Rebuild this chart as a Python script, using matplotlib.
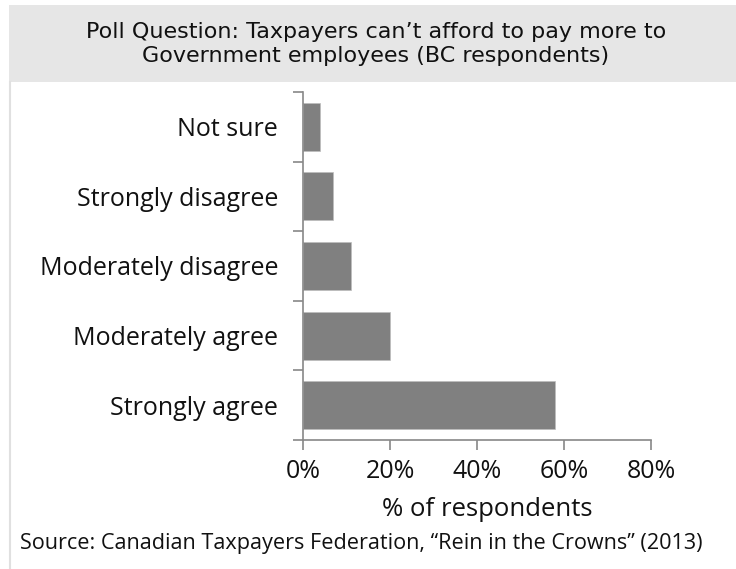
import matplotlib.pyplot as plt
from matplotlib.patches import Rectangle
from matplotlib.lines import Line2D
import numpy as np

categories = ['Strongly agree', 'Moderately agree', 'Moderately disagree',
              'Strongly disagree', 'Not sure']
values = [0.58, 0.20, 0.11, 0.07, 0.04]
xticks = [0, 0.2, 0.4, 0.6, 0.8]
xticklabels = ['0%', '20%', '40%', '60%', '80%']

plt.rcParams['font.family'] = ['Open Sans', 'DejaVu Sans']

W, H = 736, 569
fig = plt.figure(figsize=(W / 100, H / 100), dpi=100)

# header band and left rule
fig.patches.append(Rectangle((9 / W, 1 - 82 / H), 1 - 9 / W, 77 / H,
                             transform=fig.transFigure, facecolor='#e6e6e6',
                             edgecolor='none', zorder=0))
fig.lines.append(Line2D([9.5 / W, 9.5 / W], [0, 1 - 82 / H],
                        transform=fig.transFigure, color='#e0e0e0', lw=1.5))

fig.text(376 / W, 1 - 44 / H,
         'Poll Question: Taxpayers can\u2019t afford to pay more to\nGovernment employees (BC respondents)',
         ha='center', va='center', fontsize=16, linespacing=1.2,
         family='DejaVu Sans', color='#111111')

ax = fig.add_axes([303 / W, 1 - 440 / H, 348 / W, 348 / H])
y = np.arange(len(categories))
ax.barh(y, values, height=0.69, color='#808080', edgecolor='#bdbdbd', lw=0.5)
ax.set_xlim(0, 0.8)
ax.set_ylim(-0.5, len(categories) - 0.5)

for s in ['top', 'right']:
    ax.spines[s].set_visible(False)
for s in ['left', 'bottom']:
    ax.spines[s].set_color('#888888')
    ax.spines[s].set_linewidth(1.2)
ax.spines['bottom'].set_bounds(0, 0.8)

ax.set_xticks(xticks)
ax.set_xticklabels(xticklabels, fontsize=18, color='#111111')
ax.tick_params(axis='x', length=7, width=1.2, color='#888888', pad=7)

ax.set_yticks(np.arange(len(categories) + 1) - 0.5)
ax.set_yticklabels([])
ax.tick_params(axis='y', which='major', length=7, width=1.2, color='#888888')
ax.set_yticks(y, minor=True)
ax.set_yticklabels(categories, minor=True, fontsize=18, color='#111111')
ax.tick_params(axis='y', which='minor', length=0, pad=18)

ax.set_xlabel('% of respondents', fontsize=18.5, color='#111111')
ax.xaxis.set_label_coords(0.53, -0.163)

fig.text(20 / W, 1 - 543 / H,
         'Source: Canadian Taxpayers Federation, \u201cRein in the Crowns\u201d (2013)',
         ha='left', va='center', fontsize=15.6, color='#111111')

fig.savefig('out.png', dpi=100)
